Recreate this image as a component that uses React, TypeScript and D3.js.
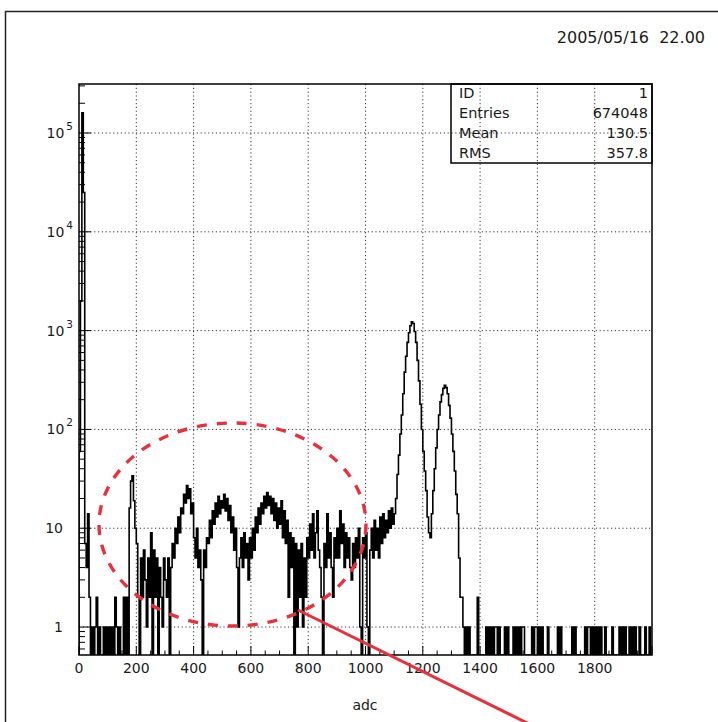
import React from "react";
import * as d3 from "d3";

// ---------- data (counts per 5-adc bin) ----------
const X_MIN = 0;
const X_MAX = 2000;
const BIN_WIDTH = 5;

// adc 0 - 199
const countsPedestal = [
  60, 2000, 160000, 25000, 7, 4, 14, 2, 0, 1, 0, 1, 2, 0, 1, 0, 0, 1, 0, 1,
  0, 1, 0, 1, 0, 2, 1, 0, 1, 0, 0, 2, 0, 2, 0, 16, 30, 34, 19, 10,
];
// adc 200 - 599
const countsLowBumps = [
  7, 2, 0, 5, 2, 6, 3, 1, 5, 2, 9, 0, 6, 2, 5, 0, 4, 2, 1, 5,
  3, 2, 5, 0, 4, 7, 5, 10, 7, 13, 9, 16, 14, 22, 18, 27, 20, 25, 14, 18,
  8, 5, 10, 4, 6, 3, 0, 6, 4, 8, 7, 12, 8, 15, 11, 18, 13, 21, 14, 19,
  16, 22, 15, 20, 12, 17, 9, 13, 6, 10, 4, 1, 5, 8, 4, 9, 5, 7, 3, 8,
];
// adc 600 - 1099
const countsPlateau = [
  5, 10, 6, 13, 9, 16, 11, 18, 14, 21, 16, 23, 17, 21, 14, 20, 12, 18, 10, 16,
  11, 19, 8, 15, 7, 12, 2, 9, 4, 8, 0, 7, 1, 6, 2, 7, 1, 5, 2, 8,
  5, 11, 6, 14, 5, 9, 15, 6, 4, 2, 0, 7, 4, 14, 5, 9, 4, 2, 8, 5,
  10, 5, 15, 7, 11, 4, 9, 5, 8, 4, 3, 7, 4, 8, 5, 10, 1, 0, 8, 5,
  9, 1, 0, 6, 10, 5, 12, 6, 10, 5, 13, 7, 14, 8, 12, 9, 15, 10, 16, 11,
];
// adc 1100 - 1399
const countsPeaks = [
  14, 20, 35, 55, 90, 140, 230, 380, 550, 760, 950, 1120, 1230, 1180, 980, 760, 500, 310, 180, 100,
  60, 38, 24, 13, 9, 8, 14, 24, 40, 65, 100, 140, 190, 225, 260, 280, 265, 230, 175, 130,
  90, 60, 38, 22, 14, 5, 2, 2, 1, 0, 1, 0, 1, 0, 0, 0, 0, 0, 2, 0,
];
// adc 1400 - 1999
const countsTail = [
  0, 0, 0, 0, 1, 0, 1, 0, 1, 0, 1, 1, 0, 1, 0, 0, 0, 1, 0, 1,
  0, 0, 0, 1, 0, 1, 0, 1, 0, 1, 1, 0, 0, 0, 0, 0, 1, 0, 1, 1,
  0, 1, 0, 1, 0, 0, 0, 1, 0, 0, 0, 0, 0, 0, 1, 0, 1, 0, 0, 0,
  0, 0, 0, 0, 1, 0, 1, 0, 0, 0, 0, 0, 0, 1, 0, 1, 1, 0, 1, 0,
  1, 0, 1, 0, 1, 0, 0, 1, 0, 0, 0, 0, 1, 0, 0, 0, 0, 1, 0, 1,
  0, 1, 0, 0, 1, 0, 1, 0, 1, 0, 0, 1, 0, 0, 0, 1, 0, 0, 1, 0,
];

const xTickValues = [0, 200, 400, 600, 800, 1000, 1200, 1400, 1600, 1800];
const yDecades = [0, 1, 2, 3, 4, 5];
const statsLabels = ["ID", "Entries", "Mean", "RMS"];
const statsValues = ["1", "674048", "130.5", "357.8"];
const dateText = "2005/05/16\u00a0\u00a022.00";
const xTitle = "adc";

// ---------- layout ----------
const W = 718;
const H = 722;
const L = 79;
const R = 652;
const T = 84;
const B = 655;
const FONT = "'DejaVu Sans', sans-serif";
const RED = "#e6323e";
const TEXT = "#1a1a1a";

export default function App() {
  const counts = [
    ...countsPedestal,
    ...countsLowBumps,
    ...countsPlateau,
    ...countsPeaks,
    ...countsTail,
  ];
  const x = d3.scaleLinear().domain([X_MIN, X_MAX]).range([L, R]);
  const y = d3
    .scaleLog()
    .domain([Math.pow(10, -0.283), Math.pow(10, 5.496)])
    .range([B, T]);

  // step path
  let d = `M${x(0)},${B}`;
  counts.forEach((v, i) => {
    const x0 = x(i * BIN_WIDTH);
    const x1 = x((i + 1) * BIN_WIDTH);
    const yy = v > 0 ? y(v) : B;
    d += `L${x0},${yy}L${x1},${yy}`;
  });
  d += `L${x(X_MAX)},${B}`;

  // y ticks
  const [yLo, yHi] = y.domain();
  const yMinor: number[] = [];
  for (let k = -1; k <= 5; k++) {
    for (let m = 2; m <= 9; m++) {
      const v = m * Math.pow(10, k);
      if (v > yLo && v < yHi) yMinor.push(v);
    }
  }
  const xMinor = d3.range(X_MIN, X_MAX + 1, 50).filter((v) => v % 200 !== 0);
  const xMajor = d3.range(X_MIN, X_MAX + 1, 200);

  const grid = { stroke: "#333", strokeWidth: 1, strokeDasharray: "1.2,2.6" };

  return (
    <svg
      width={W}
      height={H}
      style={{ position: "absolute", left: 0, top: 0, background: "#fff" }}
      fontFamily={FONT}
    >
      <defs>
        <clipPath id="plotClip">
          <rect x={L} y={T} width={R - L} height={B - T} />
        </clipPath>
      </defs>
      <rect x={0} y={0} width={W} height={H} fill="#fff" />
      {/* outer canvas frame */}
      <path d={`M5.5,${H + 5}V11.5H${W + 5}`} fill="none" stroke="#222" strokeWidth={1.5} />

      {/* date */}
      <text x={705} y={43} fontSize={16} textAnchor="end" fill={TEXT}>
        {dateText}
      </text>

      {/* grid */}
      {xTickValues.filter((v) => v > 0).map((v) => (
        <line key={"gx" + v} x1={x(v)} x2={x(v)} y1={T} y2={B} {...grid} />
      ))}
      {yDecades.map((k) => (
        <line key={"gy" + k} x1={L} x2={R} y1={y(Math.pow(10, k))} y2={y(Math.pow(10, k))} {...grid} />
      ))}

      {/* histogram */}
      <path d={d} fill="none" stroke="#000" strokeWidth={1.6} clipPath="url(#plotClip)" strokeLinejoin="miter" />

      {/* frame */}
      <rect x={L} y={T} width={R - L} height={B - T} fill="none" stroke="#000" strokeWidth={1.5} />

      {/* x ticks */}
      {xMajor.map((v) => (
        <line key={"xt" + v} x1={x(v)} x2={x(v)} y1={B} y2={B - 9} stroke="#000" strokeWidth={1} />
      ))}
      {xMinor.map((v) => (
        <line key={"xm" + v} x1={x(v)} x2={x(v)} y1={B} y2={B - 4.5} stroke="#000" strokeWidth={1} />
      ))}
      {/* y ticks */}
      {yDecades.map((k) => (
        <line key={"yt" + k} x1={L} x2={L + 12} y1={y(Math.pow(10, k))} y2={y(Math.pow(10, k))} stroke="#000" strokeWidth={1} />
      ))}
      {yMinor.map((v, i) => (
        <line key={"ym" + i} x1={L} x2={L + 6} y1={y(v)} y2={y(v)} stroke="#000" strokeWidth={1} />
      ))}

      {/* x labels */}
      {xTickValues.map((v) => (
        <text key={"xl" + v} x={x(v)} y={B + 18} fontSize={14} textAnchor="middle" fill={TEXT}>
          {String(v)}
        </text>
      ))}
      <text x={365} y={710} fontSize={14} textAnchor="middle" fill={TEXT}>
        {xTitle}
      </text>

      {/* y labels */}
      {yDecades.map((k) => {
        const yy = y(Math.pow(10, k)) + 5;
        if (k === 0)
          return (
            <text key="yl0" x={63} y={yy} fontSize={14} textAnchor="end" fill={TEXT}>1</text>
          );
        if (k === 1)
          return (
            <text key="yl1" x={63} y={yy} fontSize={14} textAnchor="end" fill={TEXT}>10</text>
          );
        return (
          <text key={"yl" + k} x={73} y={yy} fontSize={14} textAnchor="end" fill={TEXT}>
            10
            <tspan dx={2} dy={-8} fontSize={10.5}>{String(k)}</tspan>
          </text>
        );
      })}

      {/* stats box */}
      <rect x={451} y={T} width={R - 451} height={79} fill="none" stroke="#000" strokeWidth={1.5} />
      {statsLabels.map((s, i) => (
        <text key={"sl" + i} x={459} y={98 + i * 20} fontSize={14.5} fill={TEXT}>
          {s}
        </text>
      ))}
      {statsValues.map((s, i) => (
        <text key={"sv" + i} x={648} y={98 + i * 20} fontSize={14.5} textAnchor="end" fill={TEXT}>
          {s}
        </text>
      ))}

      {/* red annotations */}
      <ellipse cx={232.5} cy={524.5} rx={133.5} ry={101.5} fill="none" stroke={RED} strokeWidth={3.4} strokeDasharray="10,10" />
      <line x1={298} x2={298 + 240} y1={610} y2={610 + 240 * 0.493} stroke={RED} strokeWidth={3} />
    </svg>
  );
}
